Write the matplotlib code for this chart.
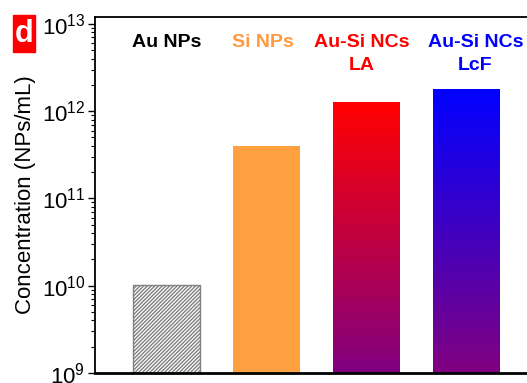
import numpy as np
import matplotlib
matplotlib.use("Agg")
import matplotlib.pyplot as plt
from matplotlib.colors import LinearSegmentedColormap
from matplotlib.patches import Rectangle

plt.rcParams['font.family'] = ['Liberation Sans', 'DejaVu Sans']
plt.rcParams['mathtext.fontset'] = 'custom'
plt.rcParams['mathtext.rm'] = 'Liberation Sans'
plt.rcParams['hatch.linewidth'] = 1.0

labels = ['Au NPs', 'Si NPs', 'Au-Si NCs\nLA', 'Au-Si NCs\nLcF']
label_colors = ['black', '#FF9A40', '#FF0000', '#0000FF']
label_dx = [0.0, -0.04, -0.05, 0.09]
values = [1.03e10, 4.0e11, 1.27e12, 1.8e12]
ymin, ymax = 1e9, 1.2e13

fig = plt.figure(figsize=(5.27, 3.83), dpi=100)
ax = fig.add_axes([95/527, 10/383, 441.5/527, 356/383])
ax.set_yscale('log')
ax.set_xlim(-0.715, 3.7)
ax.set_ylim(ymin, ymax)

x = np.arange(len(values))
w = 0.67

# plain bars
ax.bar(x[0], values[0], w, color='white', edgecolor='#808080', hatch='/////////',
       linewidth=1.0, zorder=2)
ax.bar(x[1], values[1], w, color='#FFA040', edgecolor='none', zorder=2)

# gradient bars (linear in log space, top colour -> purple at the base)
grads = {2: ('#FF0000', '#800080'), 3: ('#0000FF', '#800080')}
for i, (top_c, bot_c) in grads.items():
    cmap = LinearSegmentedColormap.from_list('g%d' % i, [bot_c, top_c])
    yy = np.geomspace(ymin, values[i], 200)
    xx = np.array([x[i] - w/2, x[i] + w/2])
    c = np.linspace(0, 1, len(yy) - 1).reshape(-1, 1)
    ax.pcolormesh(xx, yy, c, cmap=cmap, vmin=0, vmax=1, shading='flat', zorder=2)

tx = ax.get_xaxis_transform()
for i, lab in enumerate(labels):
    ax.text(x[i] + label_dx[i], 0.952, lab, transform=tx,
            ha='center', va='top', fontsize=14, fontweight='bold',
            color=label_colors[i], linespacing=1.45)

ax.set_xticks([])
ax.spines['right'].set_visible(False)
ax.spines['left'].set_linewidth(1.3)
ax.spines['top'].set_linewidth(1.3)
ax.spines['bottom'].set_linewidth(2.0)
ax.tick_params(axis='y', which='major', direction='out', length=5, width=1.0,
               labelsize=16, pad=2)
ax.tick_params(axis='y', which='minor', direction='out', length=3, width=0.8)
ax.set_ylabel('Concentration (NPs/mL)', fontsize=16, labelpad=4)

fig.patches.append(Rectangle((13/527, 1 - 52/383), 22/527, 37/383,
                             transform=fig.transFigure, color='#FF0000'))
fig.text(24/527, 1 - 34/383, 'd', color='white', fontsize=22, fontweight='bold',
         ha='center', va='center')

fig.savefig('out.png', dpi=100)
